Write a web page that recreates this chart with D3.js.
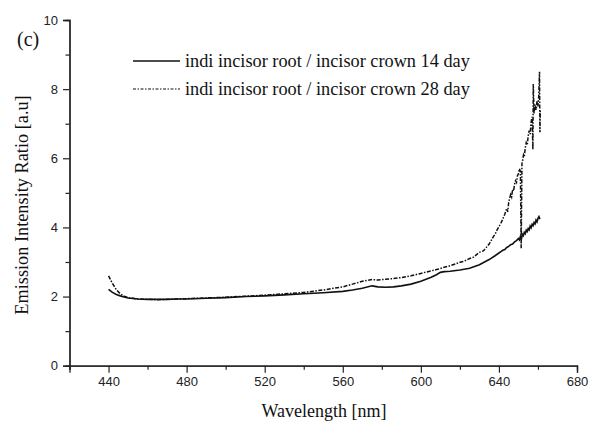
<!DOCTYPE html>
<html>
<head>
<meta charset="utf-8">
<script src="https://cdn.jsdelivr.net/npm/d3@7"></script>
<style>
  html, body { margin: 0; padding: 0; background: #fff; }
  svg { display: block; }
</style>
</head>
<body>
<svg id="chart" width="601" height="426"></svg>
<script>
// ---- data ----
const seriesNames = [
  "indi incisor root / incisor crown 14 day",
  "indi incisor root / incisor crown 28 day"
];
const wl14 = [440,442,444,446,448,450,455,460,465,470,475,480,490,500,510,520,530,540,550,560,565,570,575,578,582,586,590,595,600,605,608,610,612,615,620,625,630,635,638,640,641,642,643,644,645,646,647,648,649,650,650.5,651,651.5,652,652.5,653,653.5,654,654.5,655,655.5,656,656.5,657,657.5,658,658.5,659,659.5,660,660.5,661];
const val14 = [2.21,2.12,2.06,2.02,1.99,1.96,1.93,1.92,1.92,1.92,1.93,1.93,1.95,1.97,2.00,2.02,2.05,2.08,2.11,2.15,2.19,2.24,2.31,2.28,2.27,2.28,2.31,2.36,2.44,2.55,2.63,2.70,2.72,2.73,2.77,2.82,2.92,3.07,3.18,3.26,3.30,3.34,3.36,3.42,3.45,3.50,3.52,3.58,3.62,3.68,3.64,3.74,3.66,3.80,3.76,3.86,3.82,3.92,3.88,3.97,3.93,4.04,3.99,4.09,4.05,4.14,4.10,4.21,4.16,4.26,4.31,4.24];
const wl28 = [440,442,444,446,448,450,455,460,465,470,475,480,490,500,510,520,530,540,550,560,565,570,575,578,582,586,590,595,600,605,608,610,612,615,618,620,622,625,627,630,632,635,636,637,638,639,640,641,642,643,644,644.5,645,645.5,646,646.5,647,647.5,648,648.5,649,649.5,650,650.5,651,651.4,651.8,652.2,652.6,653,653.5,654,654.5,655,655.5,656,656.5,657,657.4,657.6,658,658.5,659,659.5,660,660.4,660.8,661,661.2];
const val28 = [2.60,2.38,2.20,2.08,2.01,1.97,1.93,1.92,1.91,1.92,1.93,1.94,1.96,1.98,2.01,2.04,2.08,2.12,2.19,2.28,2.36,2.44,2.49,2.48,2.50,2.52,2.55,2.60,2.67,2.74,2.78,2.81,2.85,2.89,2.95,2.99,3.02,3.10,3.14,3.28,3.32,3.52,3.62,3.72,3.80,3.92,4.02,4.12,4.25,4.38,4.55,4.45,4.72,4.85,4.95,4.88,5.10,5.05,5.25,5.35,5.30,5.50,5.55,5.70,5.62,3.40,5.85,5.95,6.10,6.05,6.30,6.45,6.38,6.65,6.80,6.70,7.05,7.20,6.25,8.15,7.30,7.55,7.40,7.65,7.50,7.80,8.50,6.75,7.40];
const xMajorTicks = [440,480,520,560,600,640,680];
const xMinorTicks = [420,460,500,540,580,620,660];
const yMajorTicks = [0,2,4,6,8,10];
const yMinorTicks = [1,3,5,7,9];
const xTitle = "Wavelength [nm]";
const yTitle = "Emission Intensity Ratio [a.u]";
const panelLabel = "(c)";

// ---- layout ----
const svg = d3.select("#chart");
const x = d3.scaleLinear().domain([420, 680]).range([69.5, 577]);
const y = d3.scaleLinear().domain([0, 10]).range([365.7, 20]);
const serif = "'Liberation Serif', 'Times New Roman', serif";
const sans = "'Liberation Sans', Arial, sans-serif";

// axes
const xAxisMajor = d3.axisBottom(x).tickValues(xMajorTicks).tickSize(7).tickPadding(4).tickFormat(d3.format("d"));
const xAxisMinor = d3.axisBottom(x).tickValues(xMinorTicks).tickSize(4).tickFormat("");
const yAxisMajor = d3.axisLeft(y).tickValues(yMajorTicks).tickSize(6.5).tickPadding(5).tickFormat(d3.format("d"));
const yAxisMinor = d3.axisLeft(y).tickValues(yMinorTicks).tickSize(4).tickFormat("");

function styleAxis(g) {
  g.selectAll("path.domain").attr("stroke", "#222").attr("stroke-width", 1.3);
  g.selectAll(".tick line").attr("stroke", "#222").attr("stroke-width", 1.2);
  g.selectAll("text").attr("font-family", sans).attr("font-size", 13).attr("fill", "#222");
}
svg.append("g").attr("transform", `translate(0,${y(0)})`).call(xAxisMinor).call(styleAxis);
svg.append("g").attr("transform", `translate(0,${y(0)})`).call(xAxisMajor).call(styleAxis);
svg.append("g").attr("transform", `translate(${x(420)},0)`).call(yAxisMinor).call(styleAxis);
svg.append("g").attr("transform", `translate(${x(420)},0)`).call(yAxisMajor).call(styleAxis);

// lines
const line = d3.line().x(d => x(d[0])).y(d => y(d[1]));
const d14 = wl14.map((w, i) => [w, val14[i]]);
const d28 = wl28.map((w, i) => [w, val28[i]]);
svg.append("path").datum(d28).attr("d", line).attr("fill", "none")
  .attr("stroke", "#111").attr("stroke-width", 1.5).attr("stroke-dasharray", "4,1.5,1.5,1.5");
svg.append("path").datum(d14).attr("d", line).attr("fill", "none")
  .attr("stroke", "#111").attr("stroke-width", 1.6);

// titles
svg.append("text").attr("x", 324).attr("y", 417).attr("text-anchor", "middle")
  .attr("font-family", serif).attr("font-size", 18).attr("fill", "#111").text(xTitle);
svg.append("text").attr("transform", "translate(28,205) rotate(-90)").attr("text-anchor", "middle")
  .attr("font-family", serif).attr("font-size", 18.3).attr("fill", "#111").text(yTitle);
svg.append("text").attr("x", 17).attr("y", 46)
  .attr("font-family", serif).attr("font-size", 20).attr("fill", "#111").text(panelLabel);

// legend
const legY = [61, 89];
const legend = svg.append("g");
seriesNames.forEach((name, i) => {
  legend.append("line").attr("x1", 133).attr("x2", 180).attr("y1", legY[i]).attr("y2", legY[i])
    .attr("stroke", "#111").attr("stroke-width", i === 0 ? 1.4 : 1.2)
    .attr("stroke-dasharray", i === 0 ? null : "3,1.5,1.5,1.5");
  legend.append("text").attr("x", 185).attr("y", legY[i] + 6)
    .attr("font-family", serif).attr("font-size", 18.3).attr("fill", "#111").text(name);
});
</script>
</body>
</html>
